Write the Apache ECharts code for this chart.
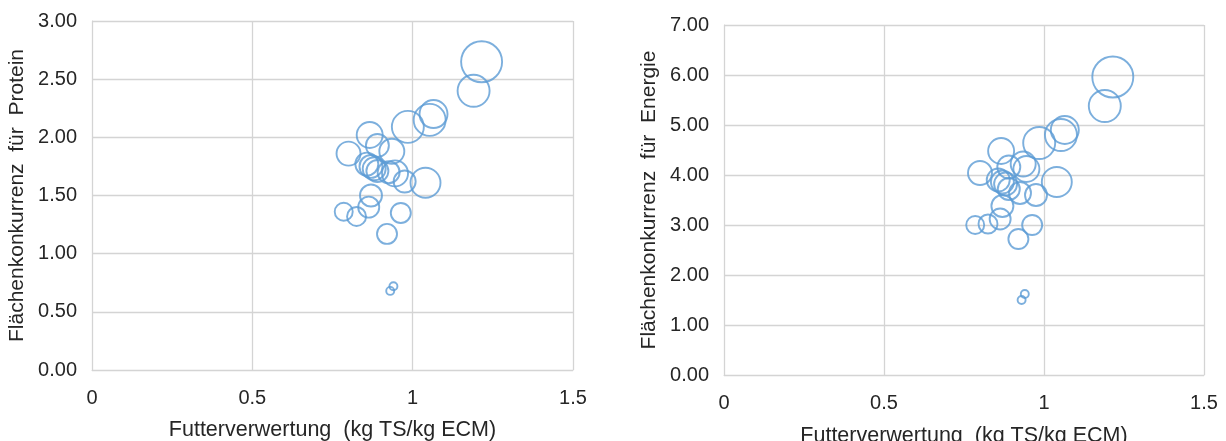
<!DOCTYPE html>
<html>
<head>
<meta charset="utf-8">
<script src="https://cdn.jsdelivr.net/npm/echarts@6/dist/echarts.min.js"></script>
<style>
html,body{margin:0;padding:0;background:#fff;}
#c{width:1226px;height:441px;}
</style>
</head>
<body>
<div id="c"></div>
<script>
// Data
const futterverwertung = [1.215, 1.19, 1.065, 1.053, 0.985, 0.866, 0.80, 0.89, 0.935, 0.945, 0.975, 1.04, 0.87, 0.785, 0.825, 0.863, 0.963, 0.92, 0.94, 0.93, 0.857, 0.87, 0.88, 0.89, 0.925];
const bubbleValue = [420, 256, 196, 256, 256, 169, 144, 132, 156, 169, 121, 225, 121, 81, 90, 110, 100, 100, 16, 16, 132, 132, 132, 121, 121];
const proteinY = [2.65, 2.40, 2.20, 2.15, 2.09, 2.02, 1.86, 1.93, 1.88, 1.69, 1.62, 1.61, 1.50, 1.36, 1.32, 1.40, 1.35, 1.17, 0.72, 0.68, 1.77, 1.75, 1.73, 1.71, 1.70];
const energieY = [5.96, 5.38, 4.90, 4.80, 4.64, 4.48, 4.04, 4.16, 4.22, 4.12, 3.60, 3.86, 3.38, 3.00, 3.02, 3.12, 3.00, 2.72, 1.62, 1.50, 3.90, 3.86, 3.82, 3.72, 3.64];
const xTicks = ['0', '0.5', '1', '1.5'];
const xTitle = 'Futterverwertung  (kg TS/kg ECM)';
const yTitleProtein = 'Flächenkonkurrenz  für  Protein';
const yTitleEnergie = 'Flächenkonkurrenz  für  Energie';

const FONT = 'Liberation Sans, Arial, sans-serif';
const TXT = '#262626';
const GRIDC = '#D4D4D4';

function pts(ys){ return futterverwertung.map((x,i)=>[x, ys[i], bubbleValue[i]]); }

function xAxis(idx, gap){
  return {
    gridIndex: idx, type:'value', min:0, max:1.5, interval:0.5,
    name: xTitle, nameLocation:'middle', nameGap: gap,
    nameTextStyle:{fontFamily:FONT, fontSize:21.5, color:TXT},
    axisLine:{show:true, lineStyle:{color:GRIDC, width:1}},
    axisTick:{show:false},
    splitLine:{show:true, lineStyle:{color:GRIDC, width:1.3}},
    axisLabel:{fontFamily:FONT, fontSize:20, color:TXT, margin:18,
      formatter:(v)=>{ const i=Math.round(v/0.5); return xTicks[i]!==undefined?xTicks[i]:''; }}
  };
}
function yAxis(idx, max, interval, title, gap){
  return {
    gridIndex: idx, type:'value', min:0, max:max, interval:interval,
    name: title, nameLocation:'middle', nameGap: gap, nameRotate:90,
    nameTextStyle:{fontFamily:FONT, fontSize:21, color:TXT},
    axisLine:{show:true, lineStyle:{color:GRIDC, width:1}},
    axisTick:{show:false},
    splitLine:{show:true, lineStyle:{color:GRIDC, width:1.3}},
    axisLabel:{fontFamily:FONT, fontSize:20, color:TXT, margin:15,
      formatter:(v)=>v.toFixed(2)}
  };
}
function series(idx, ys){
  return {
    type:'scatter', xAxisIndex:idx, yAxisIndex:idx,
    data: pts(ys),
    symbol:'circle',
    symbolSize:(d)=>2*Math.sqrt(d[2]),
    itemStyle:{color:'rgba(0,0,0,0)', borderColor:'#5B9BD5', borderWidth:1.9},
    emphasis:{disabled:true},
    silent:true
  };
}

const chart = echarts.init(document.getElementById('c'), null, {renderer:'canvas'});
chart.setOption({
  animation:false,
  backgroundColor:'#fff',
  grid:[
    {left:92, top:21, width:481, height:349, containLabel:false, outerBoundsMode:'none'},
    {left:724, top:25, width:480, height:350, containLabel:false, outerBoundsMode:'none'}
  ],
  xAxis:[xAxis(0, 49), xAxis(1, 50)],
  yAxis:[yAxis(0, 3, 0.5, yTitleProtein, 64), yAxis(1, 7, 1, yTitleEnergie, 64)],
  series:[series(0, proteinY), series(1, energieY)]
});
</script>
</body>
</html>
